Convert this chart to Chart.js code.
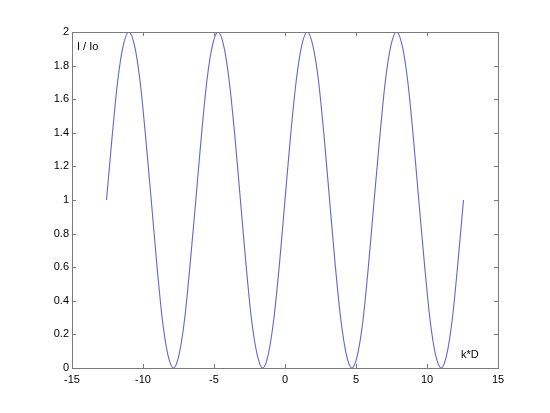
<!DOCTYPE html>
<html>
<head>
<meta charset="utf-8">
<script src="https://cdn.jsdelivr.net/npm/chart.js@4.4.1/dist/chart.umd.min.js"></script>
<style>
html,body{margin:0;padding:0;background:#fff;}
#wrap{width:550px;height:413px;}
</style>
</head>
<body>
<div id="wrap"><canvas id="c" width="550" height="413"></canvas></div>
<script>
const kD = [-12.57,-12.17,-11.78,-11.39,-11.00,-10.60,-10.21,-9.82,-9.42,-9.03,-8.64,-8.25,-7.85,-7.46,-7.07,-6.68,
 -6.28,-5.89,-5.50,-5.11,-4.71,-4.32,-3.93,-3.53,-3.14,-2.75,-2.36,-1.96,-1.57,-1.18,-0.79,-0.39,
 0.00,0.39,0.79,1.18,1.57,1.96,2.36,2.75,3.14,3.53,3.93,4.32,4.71,5.11,5.50,5.89,
 6.28,6.68,7.07,7.46,7.85,8.25,8.64,9.03,9.42,9.82,10.21,10.60,11.00,11.39,11.78,12.17,12.57];
const intensity = [1.00,1.38,1.71,1.92,2.00,1.92,1.71,1.38,1.00,0.62,0.29,0.08,0.00,0.08,0.29,0.62,
 1.00,1.38,1.71,1.92,2.00,1.92,1.71,1.38,1.00,0.62,0.29,0.08,0.00,0.08,0.29,0.62,
 1.00,1.38,1.71,1.92,2.00,1.92,1.71,1.38,1.00,0.62,0.29,0.08,0.00,0.08,0.29,0.62,
 1.00,1.38,1.71,1.92,2.00,1.92,1.71,1.38,1.00,0.62,0.29,0.08,0.00,0.08,0.29,0.62,1.00];
const xTickLabels = ['-15','-10','-5','0','5','10','15'];
const yTickLabels = ['0','0.2','0.4','0.6','0.8','1','1.2','1.4','1.6','1.8','2'];
const yLabelText = 'I / Io';
const xLabelText = 'k*D';

const axisColor = '#7a7a7a';

const frame = {
  id: 'frame',
  afterDraw(chart) {
    const {ctx, chartArea: a, scales: {x, y}} = chart;
    ctx.save();
    ctx.strokeStyle = axisColor;
    ctx.lineWidth = 1;
    ctx.strokeRect(Math.round(a.left)+0.5, Math.round(a.top)+0.5, Math.round(a.right-a.left), Math.round(a.bottom-a.top));
    const L = 4;
    ctx.beginPath();
    x.ticks.forEach(t => {
      const px = Math.round(x.getPixelForValue(t.value)) + 0.5;
      ctx.moveTo(px, a.bottom); ctx.lineTo(px, a.bottom - L);
      ctx.moveTo(px, a.top); ctx.lineTo(px, a.top + L);
    });
    y.ticks.forEach(t => {
      const py = Math.round(y.getPixelForValue(t.value)) + 0.5;
      ctx.moveTo(a.left, py); ctx.lineTo(a.left + L, py);
      ctx.moveTo(a.right, py); ctx.lineTo(a.right - L, py);
    });
    ctx.stroke();
    ctx.fillStyle = '#000';
    ctx.font = '11px "Liberation Sans", Arial, sans-serif';
    ctx.textBaseline = 'middle';
    ctx.textAlign = 'left';
    ctx.fillText(yLabelText, x.getPixelForValue(-14.65), y.getPixelForValue(1.91));
    ctx.fillText(xLabelText, x.getPixelForValue(12.4), y.getPixelForValue(0.077));
    ctx.restore();
  }
};

new Chart(document.getElementById('c'), {
  type: 'line',
  data: {
    datasets: [{
      data: kD.map((v, i) => ({x: v, y: intensity[i]})),
      borderColor: 'rgb(100,100,212)',
      borderWidth: 1.1,
      pointRadius: 0,
      fill: false,
      tension: 0.4,
      cubicInterpolationMode: 'monotone'
    }]
  },
  options: {
    responsive: false,
    animation: false,
    devicePixelRatio: 1,
    layout: {padding: {top: 32, right: 52, left: 0, bottom: 0}},
    plugins: {legend: {display: false}, tooltip: {enabled: false}},
    scales: {
      x: {
        type: 'linear', min: -15, max: 15,
        afterFit: s => { s.height = 45; },
        grid: {display: false, drawTicks: false},
        border: {display: false},
        ticks: {
          stepSize: 5, padding: 5, color: '#000', maxRotation: 0,
          font: {family: '"Liberation Sans", Arial, sans-serif', size: 11},
          callback: (v) => { const i = Math.round((v + 15) / 5); return xTickLabels[i] ?? ''; }
        }
      },
      y: {
        type: 'linear', min: 0, max: 2,
        afterFit: s => { s.width = 72; },
        grid: {display: false, drawTicks: false},
        border: {display: false},
        ticks: {
          stepSize: 0.2, padding: 3, color: '#000',
          font: {family: '"Liberation Sans", Arial, sans-serif', size: 11},
          callback: (v) => { const i = Math.round(v / 0.2); return yTickLabels[i] ?? ''; }
        }
      }
    }
  },
  plugins: [frame]
});
</script>
</body>
</html>
